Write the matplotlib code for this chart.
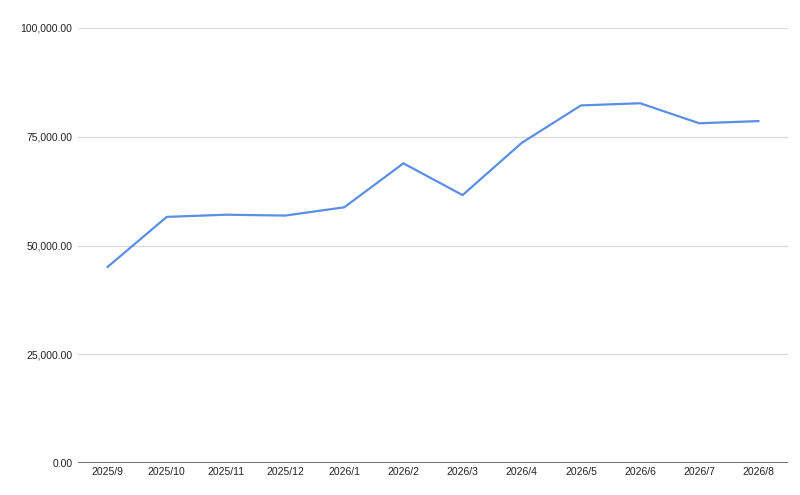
import matplotlib.pyplot as plt
from matplotlib.ticker import FuncFormatter

months = ['2025/9', '2025/10', '2025/11', '2025/12', '2026/1', '2026/2',
          '2026/3', '2026/4', '2026/5', '2026/6', '2026/7', '2026/8']
values = [45100, 56600, 57100, 56900, 58800, 68900,
          61600, 73600, 82200, 82700, 78100, 78600]
yticks = [0, 25000, 50000, 75000, 100000]

plt.rcParams['font.family'] = ['Liberation Sans', 'DejaVu Sans']

fig = plt.figure(figsize=(8, 4.95), dpi=100)
ax = fig.add_axes([0.0975, 0.064, 0.8875, 0.8796])

x = list(range(len(months)))
ax.plot(x, values, color='#5b8fe3', linewidth=1.6, zorder=3)

ax.set_xlim(-0.5, len(months) - 0.5)
ax.set_ylim(0, 100000)
ax.set_xticks(x)
ax.set_xticklabels(months)
ax.set_yticks(yticks)
ax.yaxis.set_major_formatter(FuncFormatter(lambda v, p: f'{v:,.2f}'))

ax.grid(axis='y', color='#d9d9d9', linewidth=0.9, zorder=0)
ax.axhline(0, color='#666666', linewidth=1.3, zorder=2)
for s in ax.spines.values():
    s.set_visible(False)
ax.tick_params(length=0, labelsize=7.5, labelcolor='#222222')
ax.tick_params(axis='y', pad=4)
ax.tick_params(axis='x', pad=3)

fig.savefig('out.png', dpi=100, facecolor='white')
